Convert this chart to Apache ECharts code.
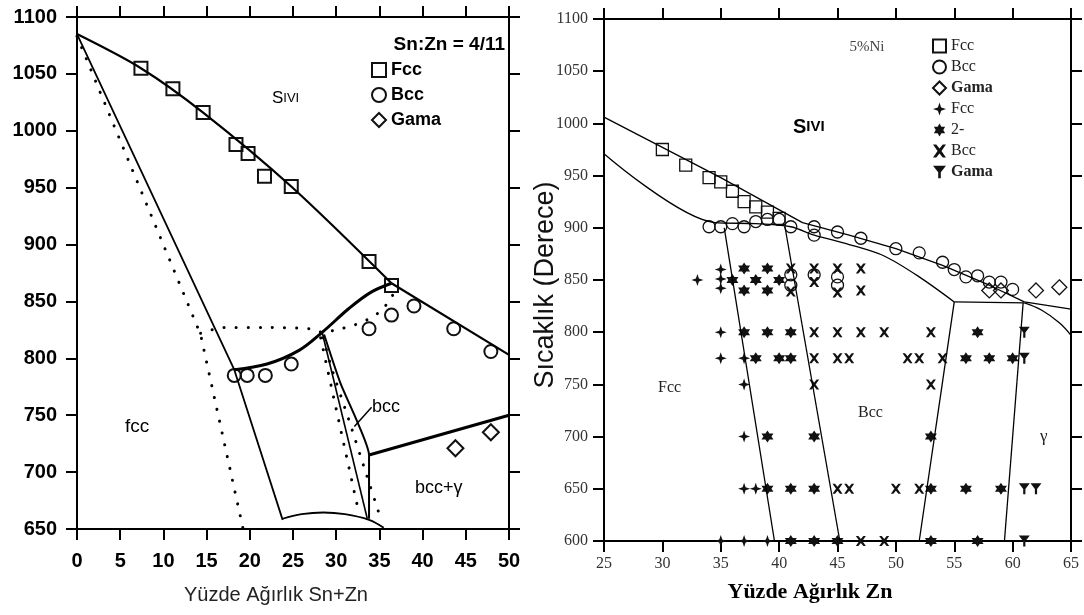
<!DOCTYPE html>
<html>
<head>
<meta charset="utf-8">
<script src="https://cdn.jsdelivr.net/npm/echarts@6/dist/echarts.min.js"></script>
<style>
  body { margin: 0; background: #fff; }
  #chart { width: 1084px; height: 615px; }
</style>
</head>
<body>
<div id="chart"></div>
<script>
  // ---- left diagram (Sn:Zn = 4/11) ----
  const leftFccSquares = [[7.4,1055],[11.1,1037],[14.6,1016],[18.4,988],[19.8,980],[21.7,960],[24.8,951],[33.8,885],[36.4,864]];
  const leftBccCircles = [[18.2,785],[19.7,785],[21.8,785],[24.8,795],[33.8,826],[36.4,838],[39.0,846],[43.6,826],[47.9,806]];
  const leftGamaDiamonds = [[43.8,721],[47.9,735]];

  const leftLiquidus = [[0,1085],[7.4,1055],[14.6,1016],[24.8,951],[36.4,866]];
  const leftLiquidusEnd = [[36.4,866],[50,803]];
  const leftFccSolidus = [[0,1085],[18.2,790],[23.8,658]];
  const leftBccCurve = [[18.2,790],[22,795],[25.7,807],[28.4,823],[31.5,844],[34,858],[36.4,866]];
  const leftBccThin = [[28.4,822],[33.6,659]];
  const leftBccRight = [[28.6,821],[30.5,778],[32.4,745],[33.8,715],[33.8,659]];
  const leftGammaLine = [[33.8,715],[50,750]];
  const leftDome = [[23.8,659],[26,663],[28.5,664.5],[31,663],[33.8,658],[35.5,651]];
  const leftPointer = [[32.1,740],[34.1,757]];
  const leftDot1 = [[0,1083],[14.3,821],[19.2,651]];
  const leftDot2 = [[14.3,822],[17,827],[22,827],[27,826],[28.4,823],[30.5,826],[32,829],[33.6,834],[35.2,842],[36.5,855],[36.8,863]];
  const leftDot3 = [[28.2,818],[32.6,665]];
  const leftDot4 = [[28.5,818],[29.4,793],[31.5,745],[33.45,699],[34.9,665],[35.2,658]];

  // ---- right diagram (5%Ni) ----
  const rightFccSquares = [[30,975],[32,960],[34,948],[35,944],[36,935],[37,925],[38,920],[39,915],[40,909]];
  const rightBccCircles = [[34,901],[35,901],[36,904],[37,901],[38,906],[39,908],[40,908],[41,901],[43,901],[43,893],[45,896],[47,890],[50,880],[52,876],[54,867],[55,860],[56,853],[57,854],[58,848],[59,848],[60,841],
    [41,855],[41,845],[43,855],[45,853],[45,845]];
  const rightGamaDiamonds = [[58,840],[59,840],[62,840],[64,843]];
  const rightFccPlus = [[33,850],[35,860],[35,851],[35,842],[35,800],[35,775],[37,775],[37,750],[37,700],[37,650],[38,650],[35,600],[37,600],[39,600]];
  const rightTwoPhase = [[36,850],[37,861],[37,840],[38,850],[39,861],[39,840],[40,850],
    [37,800],[39,800],[41,800],[57,800],
    [38,775],[40,775],[41,775],[56,775],[58,775],[60,775],
    [39,700],[43,700],[53,700],
    [39,650],[41,650],[43,650],[53,650],[56,650],[59,650],
    [41,600],[43,600],[45,600],[53,600],[57,600]];
  const rightBccCross = [[41,861],[41,839],[43,861],[43,848],[45,861],[45,838],[47,861],[47,840],
    [43,800],[45,800],[47,800],[49,800],[53,800],
    [43,775],[45,775],[46,775],[51,775],[52,775],[54,775],
    [43,750],[53,750],
    [45,650],[46,650],[50,650],[52,650],
    [47,600],[49,600]];
  const rightGamaY = [[61,800],[61,775],[61,650],[62,650],[61,600]];

  const rightUpper = [[25,1006],[35,948],[42,905],[46,893],[50,880],[54,864],[58,845],[61,829],[65,822]];
  const rightLower = [[25,971],[34.5,905],[38,904],[41,901],[43,893],[46,884],[49,873],[52,853],[55,829]];
  const rightFlat = [[55,829],[61,828]];
  const rightDrop = [[61,828],[62.5,821],[64,809],[65,797]];
  const rightB1 = [[35.3,900],[39.6,600]];
  const rightB2 = [[40.5,901],[45.2,600]];
  const rightB3 = [[55,829],[52,600]];
  const rightB4 = [[60.9,828],[59.3,600]];

  const legendNames = {
    'L-Fcc': 'Fcc', 'L-Bcc': 'Bcc', 'L-Gama': 'Gama',
    'R-Fcc': 'Fcc', 'R-Bcc': 'Bcc', 'R-Gama': 'Gama',
    'R-Fcc2': 'Fcc', 'R-2': '2-', 'R-Bcc2': 'Bcc', 'R-Gama2': 'Gama'
  };

  const starFour = 'path://M0,-10 L2.5,-2.5 L10,0 L2.5,2.5 L0,10 L-2.5,2.5 L-10,0 L-2.5,-2.5 Z';
  const starSix = 'path://M0,-10 L2.9,-5 L8.66,-5 L5.8,0 L8.66,5 L2.9,5 L0,10 L-2.9,5 L-8.66,5 L-5.8,0 L-8.66,-5 L-2.9,-5 Z';
  const crossX = 'path://M-10,-10 L-5,-10 L0,-4 L5,-10 L10,-10 L3,0 L10,10 L5,10 L0,4 L-5,10 L-10,10 L-3,0 Z';
  const markY = 'path://M-10,-9 L10,-9 L2,1 L2,10 L-2,10 L-2,1 Z';

  function lineSeries(data, xi, yi, width, dotted, smooth) {
    return {
      type: 'line', data: data, xAxisIndex: xi, yAxisIndex: yi,
      symbol: 'none', silent: true, smooth: smooth || false,
      lineStyle: {
        color: '#000', width: width,
        type: dotted ? [0.1, 12] : 'solid',
        cap: dotted ? 'round' : 'butt'
      }
    };
  }

  function scatter(name, data, xi, yi, symbol, size, open, border) {
    return {
      type: 'scatter', name: name, data: data, xAxisIndex: xi, yAxisIndex: yi,
      symbol: symbol, symbolSize: size, silent: true,
      itemStyle: open
        ? { color: 'rgba(0,0,0,0)', borderColor: '#111', borderWidth: border, opacity: 1 }
        : { color: '#111', opacity: 1 }
    };
  }

  function axis(grid, min, max, pos, labels, font) {
    return {
      gridIndex: grid, type: 'value', min: min, max: max,
      interval: 5, position: pos,
      axisLine: { show: true, onZero: false, lineStyle: { color: '#000', width: 2 } },
      axisTick: { show: true, length: 11, lineStyle: { color: '#000', width: 2 } },
      axisLabel: Object.assign({ show: labels, formatter: v => String(v) }, font),
      splitLine: { show: false }
    };
  }

  const leftFont = { color: '#000', fontSize: 20, fontWeight: 'bold', fontFamily: 'Liberation Sans' };
  const rightFont = { color: '#333', fontSize: 16, fontFamily: 'Liberation Serif' };

  const xAxes = [
    axis(0, 0, 50, 'bottom', true, Object.assign({ margin: 22 }, leftFont)),
    axis(0, 0, 50, 'top', false, {}),
    axis(1, 25, 65, 'bottom', true, Object.assign({ margin: 15 }, rightFont)),
    axis(1, 25, 65, 'top', false, {})
  ];
  const yAxes = [
    axis(0, 650, 1100, 'left', true, Object.assign({ margin: 20 }, leftFont)),
    axis(0, 650, 1100, 'right', false, {}),
    axis(1, 600, 1100, 'left', true, Object.assign({ margin: 16 }, rightFont)),
    axis(1, 600, 1100, 'right', false, {})
  ];
  yAxes.forEach(a => { a.interval = 50; });

  function txt(x, y, text, style) {
    return {
      type: 'text', x: x, y: y, silent: true,
      style: Object.assign({ text: text, fill: '#000', verticalAlign: 'middle' }, style)
    };
  }

  const chart = echarts.init(document.getElementById('chart'));

  const option = {
    animation: false,
    backgroundColor: '#fff',
    grid: [
      { left: 77, top: 17, width: 432, height: 512 },
      { left: 604, top: 19, width: 467, height: 522 }
    ],
    xAxis: xAxes,
    yAxis: yAxes,
    legend: [
      {
        orient: 'vertical', left: 371, top: 61, padding: 0,
        itemWidth: 14, itemHeight: 14, itemGap: 7,
        selectedMode: false,
        data: ['L-Fcc', 'L-Bcc', 'L-Gama'],
        formatter: name => legendNames[name],
        textStyle: { color: '#000', fontSize: 18, fontWeight: 'bold', fontFamily: 'Liberation Sans' }
      },
      {
        orient: 'vertical', left: 932, top: 38, padding: 0,
        itemWidth: 13, itemHeight: 13, itemGap: 5,
        selectedMode: false,
        data: ['R-Fcc', 'R-Bcc', { name: 'R-Gama', textStyle: { fontWeight: 'bold' } },
          'R-Fcc2', 'R-2', 'R-Bcc2', { name: 'R-Gama2', textStyle: { fontWeight: 'bold' } }],
        formatter: name => legendNames[name],
        textStyle: { color: '#222', fontSize: 16, fontFamily: 'Liberation Serif' }
      }
    ],
    graphic: [
      txt(505, 45, 'Sn:Zn = 4/11', { align: 'right', fontSize: 19, fontWeight: 'bold', fontFamily: 'Liberation Sans' }),
      txt(272, 98, '{a|S}{b|IVI}', { rich: { a: { fontSize: 17, fontFamily: 'Liberation Sans' }, b: { fontSize: 13, fontFamily: 'Liberation Sans' } } }),
      txt(125, 427, 'fcc', { fontSize: 19, fontFamily: 'Liberation Sans' }),
      txt(372, 407, 'bcc', { fontSize: 18, fontFamily: 'Liberation Sans' }),
      txt(415, 488, 'bcc+γ', { fontSize: 18, fontFamily: 'Liberation Sans' }),
      txt(276, 595, 'Yüzde Ağırlık Sn+Zn', { align: 'center', fontSize: 20, fill: '#222', fontFamily: 'Liberation Sans' }),

      txt(867, 47, '5%Ni', { align: 'center', fontSize: 15, fill: '#444', fontFamily: 'Liberation Serif' }),
      txt(793, 127, '{a|S}{b|IVI}', { rich: { a: { fontSize: 20, fontWeight: 'bold', fontFamily: 'Liberation Sans' }, b: { fontSize: 15, fontWeight: 'bold', fontFamily: 'Liberation Sans' } } }),
      txt(658, 388, 'Fcc', { fontSize: 16, fill: '#222', fontFamily: 'Liberation Serif' }),
      txt(858, 413, 'Bcc', { fontSize: 16, fill: '#222', fontFamily: 'Liberation Serif' }),
      txt(1040, 437, 'γ', { fontSize: 17, fill: '#222', fontFamily: 'Liberation Serif' }),
      txt(810, 592, 'Yüzde Ağırlık Zn', { align: 'center', fontSize: 22, fontWeight: 'bold', fontFamily: 'Liberation Serif' }),
      {
        type: 'text', x: 546, y: 285, rotation: Math.PI / 2, silent: true,
        style: { text: 'Sıcaklık (Derece)', fill: '#111', fontSize: 27, fontFamily: 'Liberation Sans', align: 'center', verticalAlign: 'middle' }
      }
    ],
    series: [
      // left lines
      lineSeries(leftLiquidus, 0, 0, 2.2, false, 0.3),
      lineSeries(leftLiquidusEnd, 0, 0, 2.2),
      lineSeries(leftFccSolidus, 0, 0, 1.8),
      lineSeries(leftBccCurve, 0, 0, 3, false, 0.35),
      lineSeries(leftBccThin, 0, 0, 1.6),
      lineSeries(leftBccRight, 0, 0, 2, false, 0.2),
      lineSeries(leftGammaLine, 0, 0, 3),
      lineSeries(leftDome, 0, 0, 1.8, false, 0.4),
      lineSeries(leftPointer, 0, 0, 1.5),
      lineSeries(leftDot1, 0, 0, 3, true),
      lineSeries(leftDot2, 0, 0, 3, true, 0.3),
      lineSeries(leftDot3, 0, 0, 3, true),
      lineSeries(leftDot4, 0, 0, 3, true, 0.2),
      // left markers
      scatter('L-Fcc', leftFccSquares, 0, 0, 'rect', 13, true, 2),
      scatter('L-Bcc', leftBccCircles, 0, 0, 'circle', 13, true, 2),
      scatter('L-Gama', leftGamaDiamonds, 0, 0, 'diamond', 16, true, 2),

      // right lines
      lineSeries(rightUpper, 2, 2, 1.3),
      lineSeries(rightLower, 2, 2, 1.3, false, 0.3),
      lineSeries(rightFlat, 2, 2, 1.3),
      lineSeries(rightDrop, 2, 2, 1.3, false, 0.4),
      lineSeries(rightB1, 2, 2, 1.3),
      lineSeries(rightB2, 2, 2, 1.3),
      lineSeries(rightB3, 2, 2, 1.3),
      lineSeries(rightB4, 2, 2, 1.3),
      // right markers
      scatter('R-Fcc', rightFccSquares, 2, 2, 'rect', 12, true, 1.3),
      scatter('R-Bcc', rightBccCircles, 2, 2, 'circle', 12, true, 1.3),
      scatter('R-Gama', rightGamaDiamonds, 2, 2, 'diamond', 15, true, 1.3),
      scatter('R-Fcc2', rightFccPlus, 2, 2, starFour, 12, false),
      scatter('R-2', rightTwoPhase, 2, 2, starSix, 12, false),
      scatter('R-Bcc2', rightBccCross, 2, 2, crossX, 10, false),
      scatter('R-Gama2', rightGamaY, 2, 2, markY, 11, false)
    ]
  };

  chart.setOption(option);
</script>
</body>
</html>
